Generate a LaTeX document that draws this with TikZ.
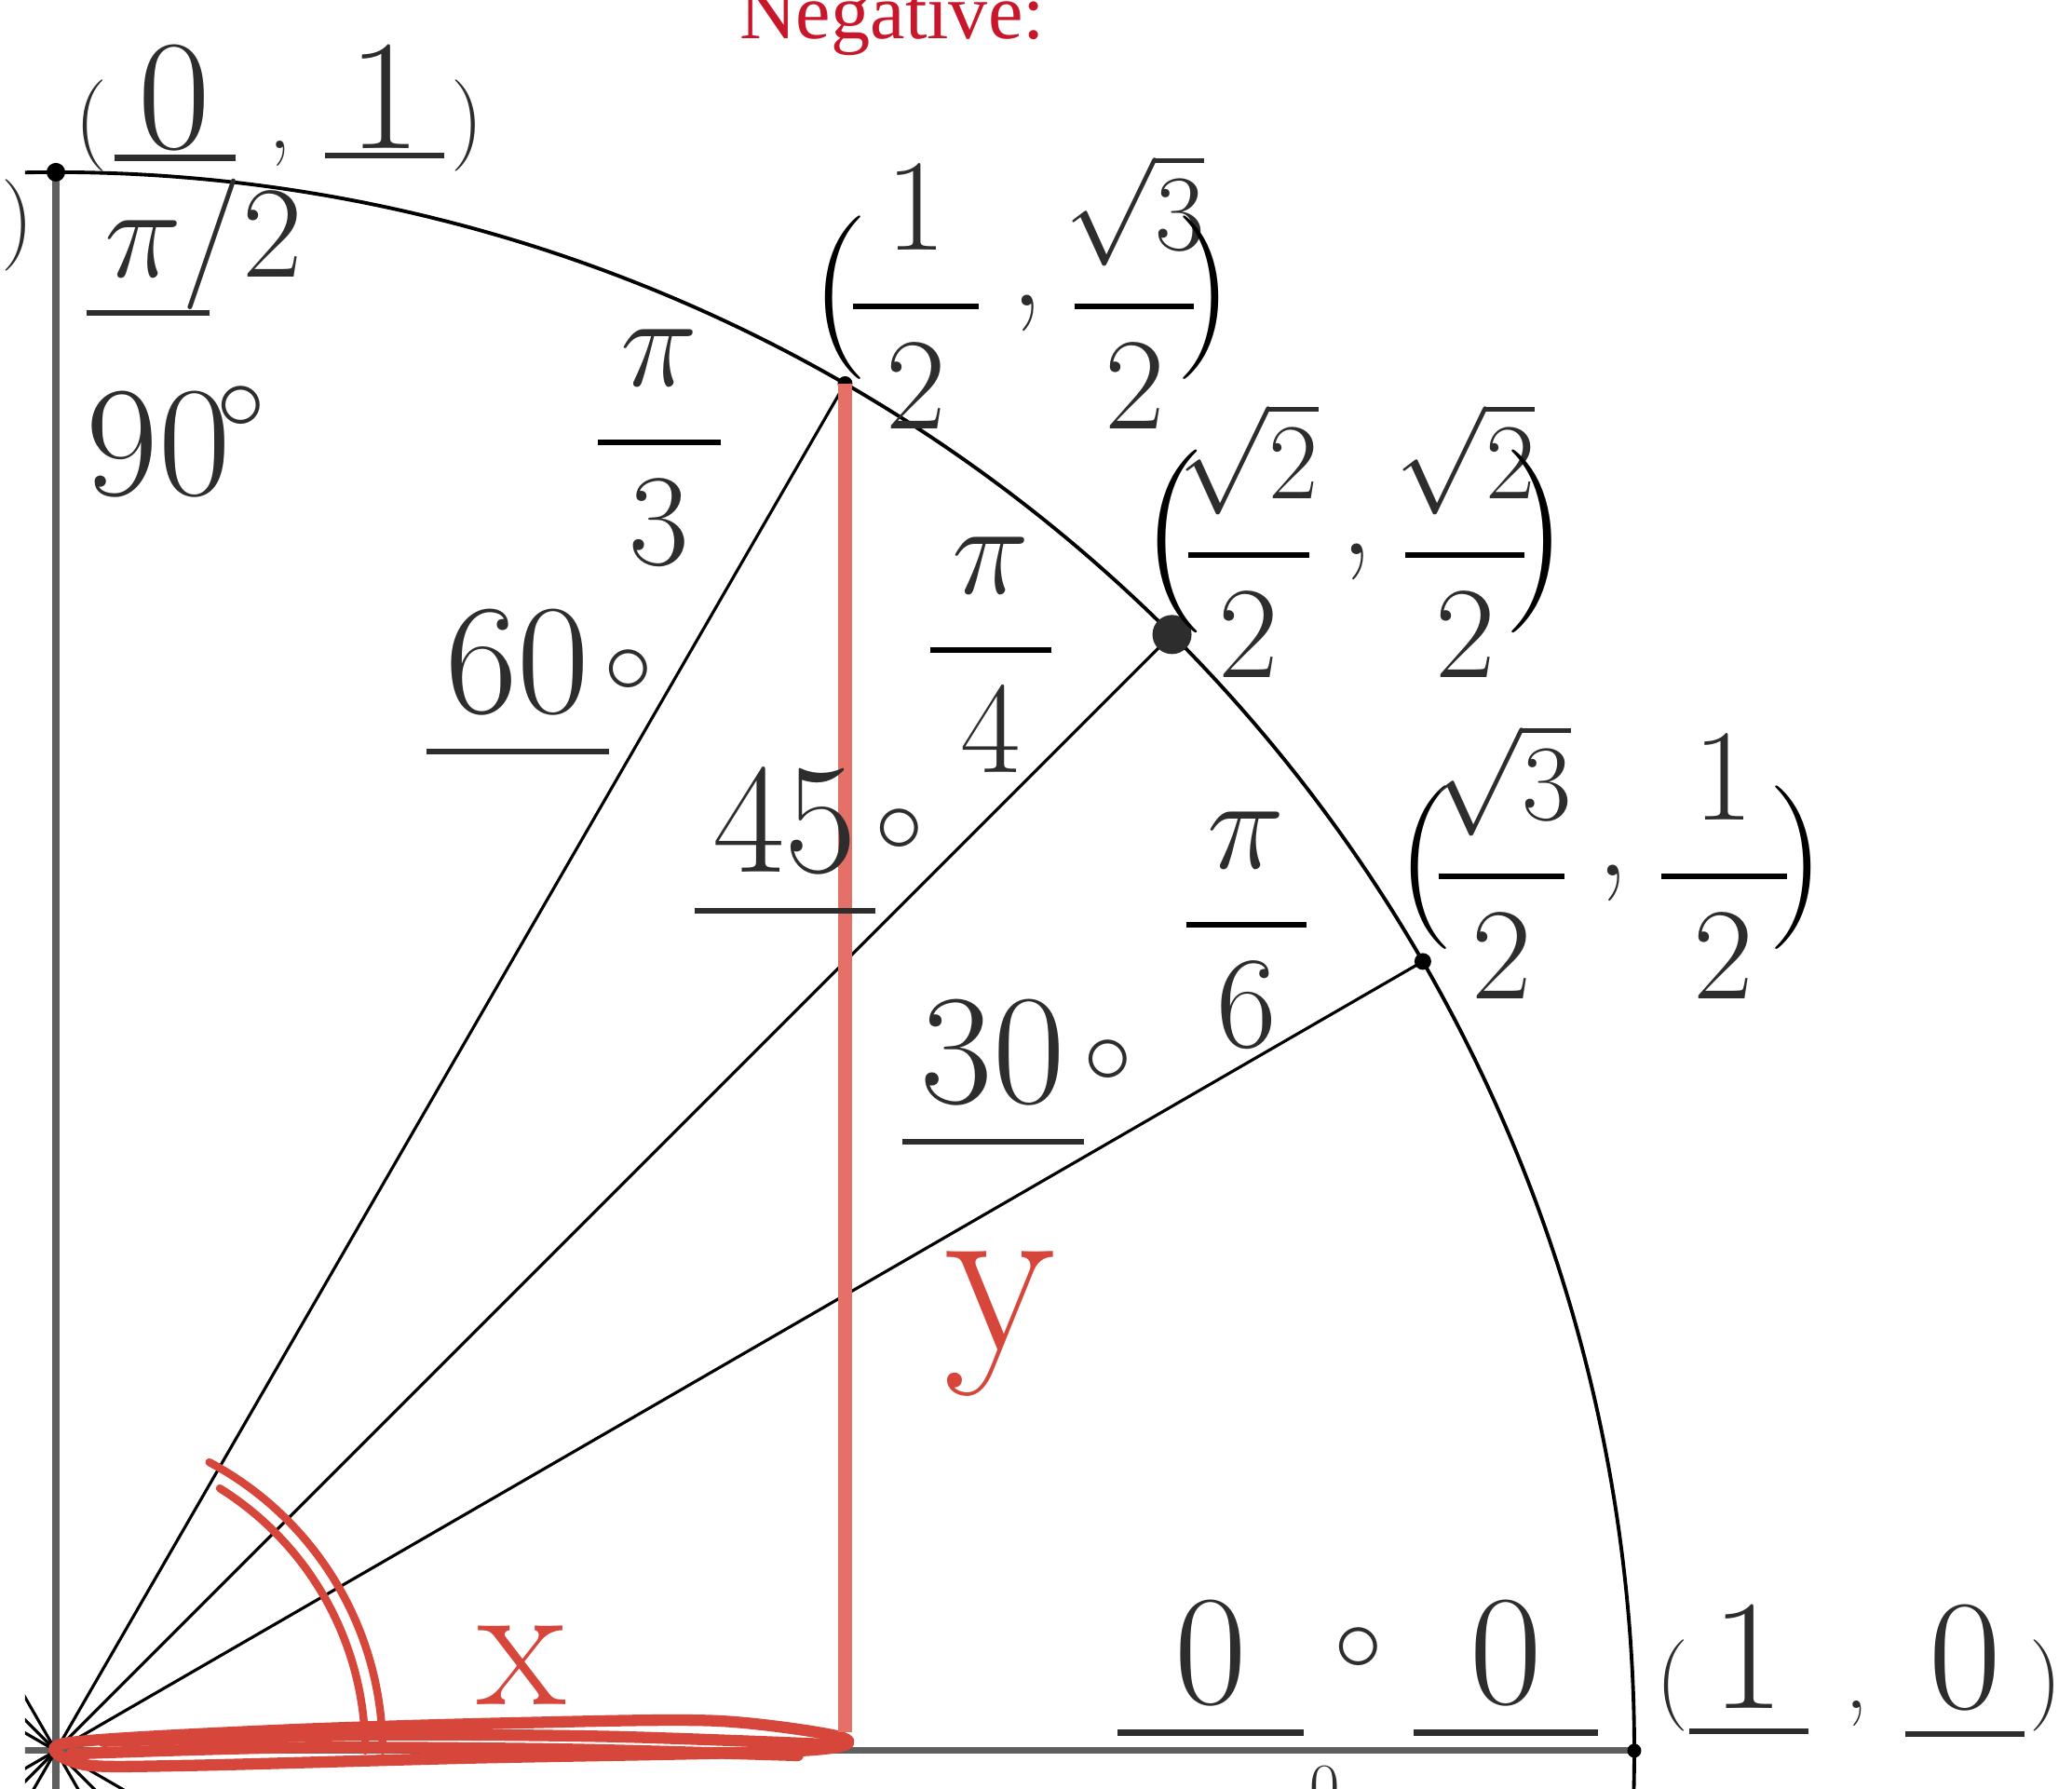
\RequirePackage{fix-cm}
\documentclass[tikz,border=0pt]{standalone}
\usepackage{fontspec}
\newfontfamily\negfont{Liberation Serif}
\definecolor{ink}{RGB}{45,45,45}
\definecolor{axisgray}{RGB}{95,95,95}
\definecolor{redpen}{RGB}{214,70,58}
\definecolor{redline}{RGB}{228,112,104}
\definecolor{negred}{RGB}{200,22,42}
\newcommand{\fsz}[2]{{\fontsize{#1}{#1}\selectfont #2}}
\newcommand{\blankans}[3][4pt]{\vtop{\hbox{\makebox[#2]{#3}}\kern#1\hrule height 1.8pt}}
\newcommand{\wfrac}[3]{\textcolor{black}{$\displaystyle{\makebox[#1]{\color{ink}$#2$}\above1.8pt\makebox[#1]{\color{ink}$#3$}}$}}
\newcommand{\rt}[1]{\hbox{\fsz{33}{$\sqrt{#1}$}}}
\newcommand{\dg}{\fsz{30}{$\circ$}}
\newcommand{\pair}[7]{\textcolor{black}{\fsz{#1}{(\kern-.12em}}\wfrac{#2}{#3}{#4}\kern.3cm\raisebox{.25em}{,}\kern.3cm\wfrac{#5}{#6}{#7}\textcolor{black}{\fsz{#1}{\kern-.14em)}}}

\begin{document}
\begin{tikzpicture}[x=16.95cm,y=16.95cm,
    axis/.style={draw=axisgray, line width=2pt},
    spoke/.style={black, line width=0.9pt},
    ring/.style={black, line width=1.1pt},
    pen/.style={draw=redpen, line width=2.4pt, line cap=round, line join=round},
    hw/.style={inner sep=0pt, text=ink, font=\fontsize{48}{48}\selectfont},
    fr/.style={inner sep=0pt, text=ink, font=\fontsize{40}{40}\selectfont}]
			\useasboundingbox (-0.0354,-0.0242) rectangle (1.2773,1.1091);
			\clip (-0.0354,-0.0242) rectangle (1.2773,1.1091);
			\coordinate (O) at (0,0);
			\coordinate (E) at (1,0);
			\coordinate (N) at (0,1);
			\coordinate (P30) at (30:1);
			\coordinate (P45) at (45:1);
			\coordinate (P60) at (60:1);
			\coordinate (foot) at (0.5,0.012);
			\coordinate (xl) at (-0.04,0);
			\coordinate (yb) at (0,-0.05);
			\begin{scope}
				\clip (-0.0195,-0.05) rectangle (1.3,1.2);
				\draw[axis] (xl) -- (E);
				\draw[axis] (N) -- (yb);
				\draw[ring] (-3:1) arc[start angle=-3, end angle=93, radius=1];
				\foreach \a in {30,45,60}
					\draw[spoke] (O) -- (P\a);
				\foreach \a in {120,135,150,210,225,240,300,315,330}
					\draw[spoke] (O) -- (\a:0.1);
			\end{scope}
			\fill (N) circle[radius=0.1cm];
			\fill (E) circle[radius=0.075cm];
			\fill (P60) circle[radius=0.08cm];
			\fill[ink] (P45) circle[radius=0.21cm];
			\fill (P30) circle[radius=0.09cm];
			\draw[pen] (0.207,0) arc[start angle=0, end angle=62, radius=0.207];
			\draw[pen] (0.196,0) arc[start angle=0, end angle=58, radius=0.196];
			\draw[pen, line width=3.5pt] plot[smooth cycle] coordinates {(0.0059,0.0047) (0.1416,0.0130) (0.2950,0.0177) (0.4189,0.0189) (0.4985,0.0083) (0.4720,0.0) (0.2596,-0.0047) (0.0826,-0.0094) (0.0177,-0.0088)};
			\draw[pen, line width=3.5pt] plot[smooth] coordinates {(0.03,0.006) (0.2,0.010) (0.35,0.009) (0.49,0.004)};
			\draw[pen, line width=3.5pt] plot[smooth] coordinates {(0.01,-0.002) (0.15,0.002) (0.32,0.001) (0.47,-0.003)};
			\draw[redline, line width=4pt] (P60) -- (foot);
			\node[hw, anchor=base west] (lblN) at (0.0118,1.0147) {\fsz{28}{(}\kern.07cm\blankans[1pt]{1.3cm}{0}\kern.36cm\fsz{28}{,}\kern.36cm\blankans[1pt]{1.28cm}{1}\kern.07cm\fsz{28}{)}};
			\node[hw, anchor=base west] (lblE) at (1.0136,0.0265) {\fsz{28}{(}\blankans[6pt]{1.28cm}{1}\kern.4cm\fsz{28}{,}\kern.4cm\blankans[6pt]{1.28cm}{0}\kern.05cm\fsz{28}{)}};
			\node[fr, anchor=base west] (lbl60) at (0.4778,0.8944) {\pair{50}{1.35cm}{1}{2}{1.28cm}{\rt{3}}{2}};
			\node[fr, anchor=base west] (lbl45) at (0.6872,0.7369) {\pair{56}{1.30cm}{\rt{2}}{2}{1.28cm}{\rt{2}}{2}};
			\node[fr, anchor=base west] (lbl30) at (0.8489,0.5333) {\pair{50}{1.35cm}{\rt{3}}{2}{1.35cm}{1}{2}};
			\node[fr, anchor=base west] (rad90) at (0.0189,0.9333) {\vtop{\hbox{\makebox[1.32cm][l]{\kern.2cm$\pi/2$}}\kern0pt\hrule height 1.8pt}};
			\node[fr, anchor=base west] (rad60) at (0.3404,0.8083) {\wfrac{1.32cm}{\pi}{3}};
			\node[fr, anchor=base west] (rad45) at (0.5510,0.6767) {\wfrac{1.30cm}{\pi}{4}};
			\node[fr, anchor=base west] (rad30) at (0.7132,0.5027) {\wfrac{1.29cm}{\pi}{6}};
			\node[hw, anchor=base west] (deg90) at (0.0189,0.7953) {90\kern-.15cm\raisebox{20pt}{\dg}};
			\node[hw, anchor=base west] (deg60) at (0.2342,0.6572) {\blankans[10pt]{1.96cm}{60}\kern-.05cm\raisebox{6pt}{\dg}};
			\node[hw, anchor=base west] (deg45) at (0.4041,0.5563) {\blankans[10pt]{1.94cm}{45}\raisebox{6pt}{\dg}};
			\node[hw, anchor=base west] (deg30) at (0.5357,0.4100) {\blankans[10pt]{1.95cm}{30}\raisebox{6pt}{\dg}};
			\node[hw, anchor=base west] (deg0) at (0.6720,0.0295) {\blankans[7pt]{2cm}{0}\makebox[1.18cm]{\raisebox{10pt}{\dg}}\blankans[7pt]{1.98cm}{0}};
			\node[inner sep=0pt, text=redpen, font=\fontsize{56}{56}\selectfont] (xlbl) at (0.2950,0.0543) {x};
			\node[inner sep=0pt, text=redpen, font=\fontsize{70}{70}\selectfont] (ylbl) at (0.5982,0.2702) {y};
			\node[text=negred, font=\negfont\fontsize{24}{24}\selectfont, anchor=base] (neg) at (0.5298,1.0844) {Negative:};
			\node[hw, font=\fontsize{28}{28}\selectfont] (cutL) at (-0.0242,0.9664) {)};
			\node[hw, font=\fontsize{20}{20}\selectfont] (cutB) at (0.8041,-0.0236) {0};
		\end{tikzpicture}
\end{document}
